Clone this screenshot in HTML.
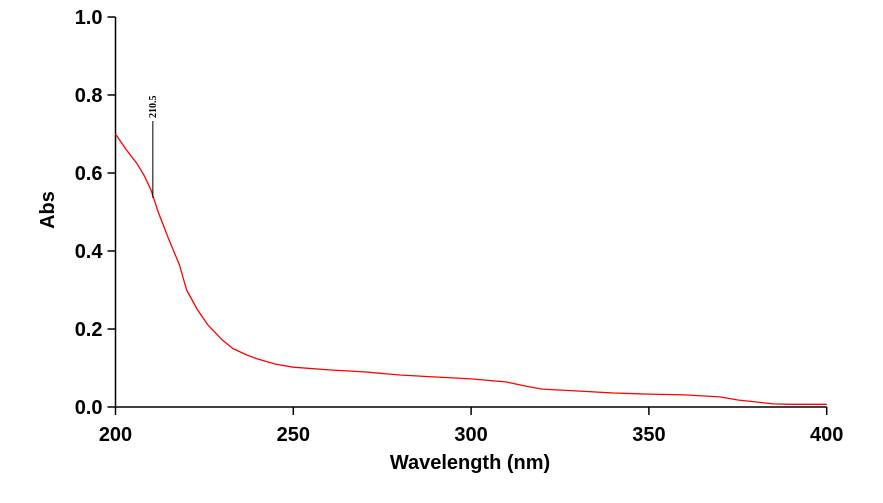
<!DOCTYPE html>
<html><head><meta charset="utf-8"><style>
body{margin:0;background:#fff;}
svg{display:block;font-family:"Liberation Sans",Arial,sans-serif;}
</style></head><body>
<svg id="chart" width="883" height="503">
<g id="axes"></g>
<g id="plot"></g>
</svg>
<script>
const wavelengths=[200,203,206,208,210,212,215,218,220,223,226,230,233,237,240,245,250,260,270,280,290,300,310,315,320,330,340,350,360,370,375,380,385,390,400];
const absValues=[0.70,0.66,0.625,0.595,0.556,0.50,0.43,0.364,0.30,0.25,0.21,0.172,0.15,0.133,0.123,0.11,0.102,0.095,0.09,0.082,0.077,0.072,0.064,0.054,0.046,0.041,0.036,0.033,0.031,0.026,0.018,0.013,0.008,0.007,0.007];
const xTicks=[200,250,300,350,400];
const yTicks=[0.0,0.2,0.4,0.6,0.8,1.0];
const peakLabels=[210.5];
const peakValues=[0.536];

const NS="http://www.w3.org/2000/svg";
const X0=115.5,X1=826.7,Y0=407,Y1=17;
const sx=v=>X0+(v-200)/200*(X1-X0);
const sy=v=>Y0-v*(Y0-Y1);
function mk(tag,attrs,parent){const e=document.createElementNS(NS,tag);for(const k in attrs)e.setAttribute(k,attrs[k]);parent.appendChild(e);return e;}
const axes=document.getElementById('axes'),plot=document.getElementById('plot');

let e=mk('line',{x1:X0,y1:Y1,x2:X0,y2:Y0+1,stroke:'#000','stroke-width':1.5},axes);


e=mk('line',{x1:X0,y1:Y0,x2:X1,y2:Y0,stroke:'#000','stroke-width':1.5},axes);



xTicks.forEach(t=>{
  const x=sx(t);
  let l=mk('line',{x1:x,y1:Y0,x2:x,y2:Y0+8,stroke:'#000','stroke-width':1.5},axes);
  
  
  let tx=mk('text',{x:x,y:Y0+34,'text-anchor':'middle','font-size':20,'font-weight':'bold'},axes);
  tx.textContent=t;
  
  
});
yTicks.forEach(t=>{
  const y=sy(t);
  let l=mk('line',{x1:X0-8,y1:y,x2:X0,y2:y,stroke:'#000','stroke-width':1.5},axes);
  
  
  let tx=mk('text',{x:X0-13,y:y+7,'text-anchor':'end','font-size':20,'font-weight':'bold'},axes);
  tx.textContent=t.toFixed(1);
  
  
});
let xt=mk('text',{x:470,y:469,'text-anchor':'middle','font-size':20,'font-weight':'bold'},axes);
xt.textContent='Wavelength (nm)';


let yt=mk('text',{x:0,y:0,'text-anchor':'middle','font-size':20,'font-weight':'bold',transform:'translate(54,210) rotate(-90)'},axes);
yt.textContent='Abs';



const d=wavelengths.map((w,i)=>(i?'L':'M')+sx(w).toFixed(1)+','+sy(absValues[i]).toFixed(1)).join(' ');
let p=mk('path',{d:d,fill:'none',stroke:'#f00','stroke-width':1.3,'stroke-linejoin':'round'},plot);



peakLabels.forEach((w,i)=>{
  const x=sx(w);
  let l=mk('line',{x1:x,y1:sy(peakValues[i]),x2:x,y2:121,stroke:'#000','stroke-width':1},plot);
  
  
  let t=mk('text',{x:0,y:0,'font-size':10,'font-weight':'bold','font-family':'Liberation Serif,serif',transform:`translate(${x+3},118) rotate(-90)`},plot);
  t.textContent=w.toFixed(1);
  
  
});
</script>
</body></html>
